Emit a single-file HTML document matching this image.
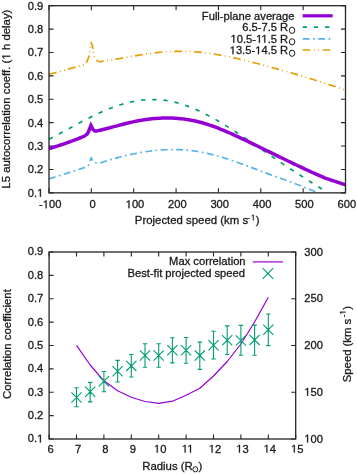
<!DOCTYPE html><html><head><meta charset="utf-8"><style>html,body{margin:0;padding:0;background:#fff;}svg{display:block;filter:blur(0.3px);}text{font-family:"Liberation Sans", sans-serif;fill:#1a1a1a;stroke:#1a1a1a;stroke-width:0.3px;white-space:pre;}</style></head><body>
<svg width="357" height="474" viewBox="0 0 357 474">
<rect width="357" height="474" fill="#fff"/>
<path d="M49.00 192.85V188.35M49.00 5.70V10.20M91.36 192.85V188.35M91.36 5.70V10.20M133.71 192.85V188.35M133.71 5.70V10.20M176.07 192.85V188.35M176.07 5.70V10.20M218.43 192.85V188.35M218.43 5.70V10.20M260.79 192.85V188.35M260.79 5.70V10.20M303.14 192.85V188.35M303.14 5.70V10.20M345.50 192.85V188.35M345.50 5.70V10.20M49.00 192.85H53.50M345.50 192.85H341.00M49.00 169.46H53.50M345.50 169.46H341.00M49.00 146.06H53.50M345.50 146.06H341.00M49.00 122.67H53.50M345.50 122.67H341.00M49.00 99.27H53.50M345.50 99.27H341.00M49.00 75.88H53.50M345.50 75.88H341.00M49.00 52.49H53.50M345.50 52.49H341.00M49.00 29.09H53.50M345.50 29.09H341.00M49.00 5.70H53.50M345.50 5.70H341.00" stroke="#262626" stroke-width="1.1" fill="none"/>
<polyline points="49.00,74.22 51.00,73.74 53.00,73.25 55.00,72.75 57.00,72.23 59.00,71.69 61.00,71.15 63.00,70.60 65.00,70.04 67.00,69.48 69.00,68.92 71.00,68.35 73.00,67.79 75.00,67.23 77.00,66.68 79.00,66.13 81.00,65.60 83.00,65.07 85.00,64.56 87.00,61.50 89.50,55.00 91.20,42.50 92.50,46.00 93.50,53.00 95.00,58.50 97.50,61.00 100.00,61.74 102.01,61.46 104.02,61.16 106.04,60.86 108.05,60.54 110.06,60.22 112.07,59.88 114.09,59.54 116.10,59.20 118.11,58.85 120.12,58.49 122.14,58.13 124.15,57.77 126.16,57.41 128.17,57.05 130.18,56.69 132.20,56.34 134.21,55.98 136.22,55.63 138.23,55.29 140.25,54.96 142.26,54.63 144.27,54.31 146.28,54.01 148.30,53.71 150.31,53.43 152.32,53.16 154.33,52.90 156.34,52.66 158.36,52.44 160.37,52.23 162.38,52.05 164.39,51.88 166.41,51.74 168.42,51.62 170.43,51.51 172.44,51.43 174.45,51.37 176.47,51.33 178.48,51.32 180.49,51.32 182.50,51.34 184.52,51.38 186.53,51.44 188.54,51.52 190.55,51.61 192.57,51.73 194.58,51.87 196.59,52.02 198.60,52.19 200.61,52.38 202.63,52.59 204.64,52.81 206.65,53.05 208.66,53.31 210.68,53.58 212.69,53.88 214.70,54.18 216.71,54.51 218.73,54.85 220.74,55.20 222.75,55.57 224.76,55.95 226.77,56.35 228.79,56.77 230.80,57.19 232.81,57.63 234.82,58.07 236.84,58.53 238.85,59.00 240.86,59.47 242.87,59.96 244.89,60.45 246.90,60.95 248.91,61.45 250.92,61.96 252.93,62.47 254.95,62.98 256.96,63.50 258.97,64.03 260.98,64.55 263.00,65.09 265.01,65.62 267.02,66.16 269.03,66.70 271.05,67.25 273.06,67.80 275.07,68.36 277.08,68.91 279.09,69.47 281.11,70.04 283.12,70.61 285.13,71.18 287.14,71.75 289.16,72.33 291.17,72.91 293.18,73.50 295.19,74.09 297.20,74.68 299.22,75.28 301.23,75.88 303.24,76.48 305.25,77.09 307.27,77.70 309.28,78.32 311.29,78.94 313.30,79.56 315.32,80.19 317.33,80.82 319.34,81.46 321.35,82.10 323.36,82.75 325.38,83.40 327.39,84.05 329.40,84.71 331.41,85.37 333.43,86.04 335.44,86.71 337.45,87.38 339.46,88.06 341.48,88.75 343.49,89.44 345.50,90.13" fill="none" stroke="#e69f00" stroke-width="1.7" stroke-dasharray="7.74 3.44 0.86 3.44 0.86 3.44" stroke-linejoin="round"/>
<polyline points="49.00,178.91 51.06,178.26 53.11,177.62 55.17,176.97 57.22,176.33 59.28,175.68 61.33,175.03 63.39,174.38 65.44,173.73 67.50,173.08 69.56,172.42 71.61,171.76 73.67,171.10 75.72,170.43 77.78,169.76 79.83,169.08 81.89,168.40 83.94,167.72 86.00,167.03 88.30,165.60 89.80,161.50 91.20,157.60 92.50,160.50 93.50,162.00 96.30,162.80 101.00,162.64 103.01,161.99 105.02,161.36 107.03,160.74 109.04,160.13 111.05,159.53 113.06,158.95 115.07,158.38 117.07,157.82 119.08,157.29 121.09,156.76 123.10,156.25 125.11,155.76 127.12,155.29 129.13,154.83 131.14,154.38 133.15,153.96 135.16,153.55 137.17,153.16 139.18,152.79 141.19,152.44 143.20,152.10 145.21,151.79 147.21,151.49 149.22,151.22 151.23,150.96 153.24,150.73 155.25,150.51 157.26,150.32 159.27,150.15 161.28,150.00 163.29,149.87 165.30,149.77 167.31,149.69 169.32,149.63 171.33,149.60 173.34,149.59 175.35,149.60 177.36,149.64 179.36,149.71 181.37,149.80 183.38,149.91 185.39,150.05 187.40,150.22 189.41,150.42 191.42,150.64 193.43,150.89 195.44,151.16 197.45,151.47 199.46,151.80 201.47,152.16 203.48,152.55 205.49,152.97 207.50,153.41 209.50,153.88 211.51,154.37 213.52,154.89 215.53,155.42 217.54,155.98 219.55,156.56 221.56,157.15 223.57,157.77 225.58,158.40 227.59,159.04 229.60,159.70 231.61,160.38 233.62,161.06 235.63,161.76 237.64,162.47 239.64,163.19 241.65,163.91 243.66,164.64 245.67,165.38 247.68,166.13 249.69,166.88 251.70,167.63 253.71,168.38 255.72,169.14 257.73,169.89 259.74,170.64 261.75,171.39 263.76,172.14 265.77,172.89 267.78,173.63 269.79,174.37 271.79,175.11 273.80,175.85 275.81,176.59 277.82,177.32 279.83,178.06 281.84,178.80 283.85,179.54 285.86,180.28 287.87,181.03 289.88,181.78 291.89,182.53 293.90,183.28 295.91,184.04 297.92,184.80 299.93,185.57 301.93,186.34 303.94,187.12 305.95,187.91 307.96,188.70 309.97,189.50 311.98,190.31 313.99,191.13 316.00,191.96" fill="none" stroke="#56b4e9" stroke-width="1.7" stroke-dasharray="6.88 3.44 1.72 3.44" stroke-linejoin="round"/>
<polyline points="49.00,139.20 51.01,138.15 53.02,137.10 55.03,136.04 57.04,134.97 59.05,133.90 61.06,132.82 63.07,131.73 65.08,130.65 67.08,129.56 69.09,128.47 71.10,127.38 73.11,126.30 75.12,125.22 77.13,124.15 79.14,123.08 81.15,122.02 83.16,120.97 85.17,119.93 87.18,118.90 89.19,117.89 91.20,116.88 93.21,115.90 95.22,114.93 97.23,113.98 99.24,113.05 101.24,112.14 103.25,111.26 105.26,110.39 107.27,109.55 109.28,108.74 111.29,107.96 113.30,107.20 115.31,106.47 117.32,105.78 119.33,105.12 121.34,104.49 123.35,103.90 125.36,103.34 127.37,102.82 129.38,102.33 131.39,101.88 133.40,101.47 135.41,101.10 137.41,100.76 139.42,100.46 141.43,100.21 143.44,99.99 145.45,99.82 147.46,99.68 149.47,99.59 151.48,99.54 153.49,99.53 155.50,99.57 157.51,99.65 159.52,99.78 161.53,99.95 163.54,100.16 165.55,100.42 167.56,100.73 169.57,101.09 171.57,101.48 173.58,101.92 175.59,102.41 177.60,102.93 179.61,103.50 181.62,104.11 183.63,104.75 185.64,105.44 187.65,106.16 189.66,106.92 191.67,107.71 193.68,108.53 195.69,109.40 197.70,110.29 199.71,111.21 201.72,112.17 203.73,113.16 205.73,114.17 207.74,115.21 209.75,116.28 211.76,117.37 213.77,118.49 215.78,119.63 217.79,120.79 219.80,121.98 221.81,123.18 223.82,124.40 225.83,125.64 227.84,126.90 229.85,128.17 231.86,129.46 233.87,130.76 235.88,132.07 237.89,133.39 239.89,134.73 241.90,136.07 243.91,137.42 245.92,138.78 247.93,140.14 249.94,141.51 251.95,142.88 253.96,144.26 255.97,145.64 257.98,147.01 259.99,148.39 262.00,149.76 264.01,151.14 266.02,152.50 268.03,153.87 270.04,155.23 272.05,156.59 274.06,157.95 276.06,159.30 278.07,160.65 280.08,162.00 282.09,163.34 284.10,164.68 286.11,166.01 288.12,167.34 290.13,168.67 292.14,169.99 294.15,171.31 296.16,172.62 298.17,173.93 300.18,175.24 302.19,176.54 304.20,177.83 306.21,179.12 308.22,180.41 310.22,181.69 312.23,182.96 314.24,184.23 316.25,185.49 318.26,186.75 320.27,188.01 322.28,189.25 324.29,190.50 326.30,191.73" fill="none" stroke="#009e73" stroke-width="1.7" stroke-dasharray="4.3 6.88" stroke-linejoin="round"/>
<polyline points="49.00,148.60 51.06,148.00 53.12,147.38 55.18,146.74 57.24,146.10 59.29,145.43 61.35,144.76 63.41,144.07 65.47,143.36 67.53,142.64 69.59,141.90 71.65,141.15 73.71,140.39 75.76,139.60 77.82,138.81 79.88,138.00 81.94,137.17 84.00,136.32 87.00,134.20 88.40,131.90 90.90,125.50 92.90,129.40 94.30,130.70 96.00,131.20 100.00,130.17 102.00,129.71 104.01,129.22 106.01,128.73 108.02,128.22 110.02,127.70 112.03,127.18 114.03,126.65 116.04,126.12 118.04,125.59 120.04,125.06 122.05,124.54 124.05,124.02 126.06,123.52 128.06,123.03 130.07,122.55 132.07,122.09 134.08,121.65 136.08,121.23 138.08,120.84 140.09,120.47 142.09,120.13 144.10,119.81 146.10,119.51 148.11,119.24 150.11,119.00 152.12,118.78 154.12,118.59 156.12,118.42 158.13,118.28 160.13,118.17 162.14,118.09 164.14,118.03 166.15,118.01 168.15,118.01 170.16,118.04 172.16,118.10 174.17,118.20 176.17,118.32 178.17,118.47 180.18,118.65 182.18,118.87 184.19,119.11 186.19,119.39 188.20,119.70 190.20,120.04 192.21,120.42 194.21,120.82 196.21,121.27 198.22,121.74 200.22,122.25 202.23,122.80 204.23,123.37 206.24,123.98 208.24,124.62 210.25,125.29 212.25,125.99 214.25,126.71 216.26,127.46 218.26,128.23 220.27,129.02 222.27,129.83 224.28,130.67 226.28,131.52 228.29,132.38 230.29,133.26 232.29,134.16 234.30,135.07 236.30,135.99 238.31,136.91 240.31,137.85 242.32,138.79 244.32,139.74 246.33,140.70 248.33,141.66 250.33,142.62 252.34,143.59 254.34,144.57 256.35,145.54 258.35,146.52 260.36,147.50 262.36,148.48 264.37,149.47 266.37,150.45 268.38,151.44 270.38,152.42 272.38,153.40 274.39,154.39 276.39,155.37 278.40,156.35 280.40,157.32 282.41,158.30 284.41,159.27 286.42,160.24 288.42,161.21 290.42,162.17 292.43,163.13 294.43,164.09 296.44,165.04 298.44,165.99 300.45,166.93 302.45,167.87 304.46,168.80 306.46,169.73 308.46,170.65 310.47,171.57 312.47,172.48 314.48,173.39 316.48,174.28 318.49,175.18 320.49,176.06 322.50,176.94 324.50,177.81 335.00,181.30 345.50,184.80" fill="none" stroke="#9400d3" stroke-width="3.5" stroke-linejoin="miter" stroke-miterlimit="10"/>
<rect x="49.0" y="5.7" width="296.50" height="187.15" fill="none" stroke="#262626" stroke-width="1.3"/>
<text x="39.09" y="208.20" font-size="11.2">-</text><path d="M515 0L515 1237L197 1010L197 1180L530 1409L696 1409L696 0Z" transform="translate(42.82,208.20) scale(0.00547,-0.00547)" fill="#1a1a1a" stroke="#1a1a1a" stroke-width="54.9"/><text x="49.05" y="208.20" font-size="11.2">00</text>
<text x="92.66" y="208.20" font-size="11.2" text-anchor="middle">0</text>
<path d="M515 0L515 1237L197 1010L197 1180L530 1409L696 1409L696 0Z" transform="translate(125.67,208.20) scale(0.00547,-0.00547)" fill="#1a1a1a" stroke="#1a1a1a" stroke-width="54.9"/><text x="131.90" y="208.20" font-size="11.2">00</text>
<text x="177.37" y="208.20" font-size="11.2" text-anchor="middle">200</text>
<text x="219.73" y="208.20" font-size="11.2" text-anchor="middle">300</text>
<text x="262.09" y="208.20" font-size="11.2" text-anchor="middle">400</text>
<text x="304.44" y="208.20" font-size="11.2" text-anchor="middle">500</text>
<text x="346.80" y="208.20" font-size="11.2" text-anchor="middle">600</text>
<text x="27.73" y="196.75" font-size="11.2">0.</text><path d="M515 0L515 1237L197 1010L197 1180L530 1409L696 1409L696 0Z" transform="translate(37.07,196.75) scale(0.00547,-0.00547)" fill="#1a1a1a" stroke="#1a1a1a" stroke-width="54.9"/>
<text x="43.30" y="173.36" font-size="11.2" text-anchor="end">0.2</text>
<text x="43.30" y="149.96" font-size="11.2" text-anchor="end">0.3</text>
<text x="43.30" y="126.57" font-size="11.2" text-anchor="end">0.4</text>
<text x="43.30" y="103.17" font-size="11.2" text-anchor="end">0.5</text>
<text x="43.30" y="79.78" font-size="11.2" text-anchor="end">0.6</text>
<text x="43.30" y="56.39" font-size="11.2" text-anchor="end">0.7</text>
<text x="43.30" y="32.99" font-size="11.2" text-anchor="end">0.8</text>
<text x="43.30" y="9.60" font-size="11.2" text-anchor="end">0.9</text>
<text x="134.8" y="223.7" font-size="11.4">Projected speed (km s</text>
<text x="247.3" y="220.3" font-size="8">-</text>
<path d="M515 0L515 1237L197 1010L197 1180L530 1409L696 1409L696 0Z" transform="translate(250.90,220.30) scale(0.00391,-0.00391)" fill="#1a1a1a" stroke="#1a1a1a" stroke-width="76.8"/>
<text x="255.7" y="223.7" font-size="11.4">)</text>
<g transform="translate(10.15,99.1) rotate(-90)"><text x="-89.57" y="0.00" font-size="11.4">L5 autocorrelation coeff. (</text><path d="M515 0L515 1237L197 1010L197 1180L530 1409L696 1409L696 0Z" transform="translate(39.50,0.00) scale(0.00557,-0.00557)" fill="#1a1a1a" stroke="#1a1a1a" stroke-width="53.9"/><text x="45.84" y="0.00" font-size="11.4"> h delay)</text></g>
<text x="294.50" y="19.80" font-size="11.2" text-anchor="end">Full-plane average</text>
<text x="288.20" y="31.25" font-size="11.2" text-anchor="end">6.5-7.5 R</text>
<ellipse cx="292.10" cy="30.35" rx="2.75" ry="3.1" fill="none" stroke="#1a1a1a" stroke-width="1.0"/><circle cx="292.10" cy="30.35" r="0.45" fill="#888"/>
<path d="M515 0L515 1237L197 1010L197 1180L530 1409L696 1409L696 0Z" transform="translate(230.50,42.70) scale(0.00547,-0.00547)" fill="#1a1a1a" stroke="#1a1a1a" stroke-width="54.9"/><text x="236.73" y="42.70" font-size="11.2">0.5-</text><path d="M515 0L515 1237L197 1010L197 1180L530 1409L696 1409L696 0Z" transform="translate(256.03,42.70) scale(0.00547,-0.00547)" fill="#1a1a1a" stroke="#1a1a1a" stroke-width="54.9"/><path d="M515 0L515 1237L197 1010L197 1180L530 1409L696 1409L696 0Z" transform="translate(261.43,42.70) scale(0.00547,-0.00547)" fill="#1a1a1a" stroke="#1a1a1a" stroke-width="54.9"/><text x="267.66" y="42.70" font-size="11.2">.5 R</text>
<ellipse cx="292.10" cy="41.80" rx="2.75" ry="3.1" fill="none" stroke="#1a1a1a" stroke-width="1.0"/><circle cx="292.10" cy="41.80" r="0.45" fill="#888"/>
<path d="M515 0L515 1237L197 1010L197 1180L530 1409L696 1409L696 0Z" transform="translate(229.67,54.15) scale(0.00547,-0.00547)" fill="#1a1a1a" stroke="#1a1a1a" stroke-width="54.9"/><text x="235.90" y="54.15" font-size="11.2">3.5-</text><path d="M515 0L515 1237L197 1010L197 1180L530 1409L696 1409L696 0Z" transform="translate(255.20,54.15) scale(0.00547,-0.00547)" fill="#1a1a1a" stroke="#1a1a1a" stroke-width="54.9"/><text x="261.43" y="54.15" font-size="11.2">4.5 R</text>
<ellipse cx="292.10" cy="53.25" rx="2.75" ry="3.1" fill="none" stroke="#1a1a1a" stroke-width="1.0"/><circle cx="292.10" cy="53.25" r="0.45" fill="#888"/>
<line x1="302.7" y1="15.8" x2="332.7" y2="15.8" stroke="#9400d3" stroke-width="3.2"/>
<line x1="302.7" y1="27.2" x2="332.7" y2="27.2" stroke="#009e73" stroke-width="1.7" stroke-dasharray="4.3 6.88"/>
<line x1="302.7" y1="38.8" x2="332.7" y2="38.8" stroke="#56b4e9" stroke-width="1.7" stroke-dasharray="6.88 3.44 1.72 3.44"/>
<line x1="302.7" y1="50.0" x2="332.7" y2="50.0" stroke="#e69f00" stroke-width="1.7" stroke-dasharray="7.74 3.44 0.86 3.44 0.86 3.44"/>
<path d="M49.10 439.00V434.50M49.10 252.00V256.50M76.50 439.00V434.50M76.50 252.00V256.50M103.90 439.00V434.50M103.90 252.00V256.50M131.30 439.00V434.50M131.30 252.00V256.50M158.70 439.00V434.50M158.70 252.00V256.50M186.10 439.00V434.50M186.10 252.00V256.50M213.50 439.00V434.50M213.50 252.00V256.50M240.90 439.00V434.50M240.90 252.00V256.50M268.30 439.00V434.50M268.30 252.00V256.50M295.70 439.00V434.50M295.70 252.00V256.50M49.10 439.00H53.60M49.10 415.62H53.60M49.10 392.25H53.60M49.10 368.88H53.60M49.10 345.50H53.60M49.10 322.12H53.60M49.10 298.75H53.60M49.10 275.38H53.60M49.10 252.00H53.60M295.70 439.00H291.20M295.70 392.25H291.20M295.70 345.50H291.20M295.70 298.75H291.20M295.70 252.00H291.20" stroke="#262626" stroke-width="1.1" fill="none"/>
<polyline points="76.50,345.30 90.20,365.00 103.90,380.80 117.60,390.80 131.30,397.30 145.00,401.50 158.70,403.30 172.40,401.20 186.10,395.30 199.80,388.30 213.50,376.00 227.20,361.50 240.90,344.00 254.60,322.00 268.30,297.20" fill="none" stroke="#9400d3" stroke-width="1.2" stroke-linejoin="round"/>
<path d="M76.50 387.70V406.70M74.30 387.70H78.70M74.30 406.70H78.70M71.40 392.40L81.60 402.60M71.40 402.60L81.60 392.40M90.20 382.40V401.90M88.00 382.40H92.40M88.00 401.90H92.40M85.10 386.70L95.30 396.90M85.10 396.90L95.30 386.70M103.90 371.50V391.80M101.70 371.50H106.10M101.70 391.80H106.10M98.80 376.10L109.00 386.30M98.80 386.30L109.00 376.10M117.60 360.40V382.00M115.40 360.40H119.80M115.40 382.00H119.80M112.50 366.10L122.70 376.30M112.50 376.30L122.70 366.10M131.30 354.50V377.00M129.10 354.50H133.50M129.10 377.00H133.50M126.20 360.80L136.40 371.00M126.20 371.00L136.40 360.80M145.00 343.70V367.30M142.80 343.70H147.20M142.80 367.30H147.20M139.90 350.40L150.10 360.60M139.90 360.60L150.10 350.40M158.70 343.70V367.30M156.50 343.70H160.90M156.50 367.30H160.90M153.60 350.40L163.80 360.60M153.60 360.60L163.80 350.40M172.40 337.80V362.90M170.20 337.80H174.60M170.20 362.90H174.60M167.30 345.10L177.50 355.30M167.30 355.30L177.50 345.10M186.10 337.50V363.30M183.90 337.50H188.30M183.90 363.30H188.30M181.00 345.10L191.20 355.30M181.00 355.30L191.20 345.10M199.80 342.10V369.40M197.60 342.10H202.00M197.60 369.40H202.00M194.70 350.50L204.90 360.70M194.70 360.70L204.90 350.50M213.50 331.20V359.00M211.30 331.20H215.70M211.30 359.00H215.70M208.40 340.20L218.60 350.40M208.40 350.40L218.60 340.20M227.20 325.90V354.50M225.00 325.90H229.40M225.00 354.50H229.40M222.10 335.10L232.30 345.30M222.10 345.30L232.30 335.10M240.90 325.40V355.30M238.70 325.40H243.10M238.70 355.30H243.10M235.80 335.40L246.00 345.60M235.80 345.60L246.00 335.40M254.60 325.10V355.30M252.40 325.10H256.80M252.40 355.30H256.80M249.50 334.80L259.70 345.00M249.50 345.00L259.70 334.80M268.30 314.00V345.60M266.10 314.00H270.50M266.10 345.60H270.50M263.20 324.70L273.40 334.90M263.20 334.90L273.40 324.70" stroke="#009e73" stroke-width="1.1" fill="none"/>
<rect x="49.1" y="252.0" width="246.60" height="187.00" fill="none" stroke="#262626" stroke-width="1.3"/>
<text x="50.60" y="452.60" font-size="11.2" text-anchor="middle">6</text>
<text x="78.00" y="452.60" font-size="11.2" text-anchor="middle">7</text>
<text x="105.40" y="452.60" font-size="11.2" text-anchor="middle">8</text>
<text x="132.80" y="452.60" font-size="11.2" text-anchor="middle">9</text>
<path d="M515 0L515 1237L197 1010L197 1180L530 1409L696 1409L696 0Z" transform="translate(153.97,452.60) scale(0.00547,-0.00547)" fill="#1a1a1a" stroke="#1a1a1a" stroke-width="54.9"/><text x="160.20" y="452.60" font-size="11.2">0</text>
<path d="M515 0L515 1237L197 1010L197 1180L530 1409L696 1409L696 0Z" transform="translate(181.79,452.60) scale(0.00547,-0.00547)" fill="#1a1a1a" stroke="#1a1a1a" stroke-width="54.9"/><path d="M515 0L515 1237L197 1010L197 1180L530 1409L696 1409L696 0Z" transform="translate(187.18,452.60) scale(0.00547,-0.00547)" fill="#1a1a1a" stroke="#1a1a1a" stroke-width="54.9"/>
<path d="M515 0L515 1237L197 1010L197 1180L530 1409L696 1409L696 0Z" transform="translate(208.77,452.60) scale(0.00547,-0.00547)" fill="#1a1a1a" stroke="#1a1a1a" stroke-width="54.9"/><text x="215.00" y="452.60" font-size="11.2">2</text>
<path d="M515 0L515 1237L197 1010L197 1180L530 1409L696 1409L696 0Z" transform="translate(236.17,452.60) scale(0.00547,-0.00547)" fill="#1a1a1a" stroke="#1a1a1a" stroke-width="54.9"/><text x="242.40" y="452.60" font-size="11.2">3</text>
<path d="M515 0L515 1237L197 1010L197 1180L530 1409L696 1409L696 0Z" transform="translate(263.57,452.60) scale(0.00547,-0.00547)" fill="#1a1a1a" stroke="#1a1a1a" stroke-width="54.9"/><text x="269.80" y="452.60" font-size="11.2">4</text>
<path d="M515 0L515 1237L197 1010L197 1180L530 1409L696 1409L696 0Z" transform="translate(290.97,452.60) scale(0.00547,-0.00547)" fill="#1a1a1a" stroke="#1a1a1a" stroke-width="54.9"/><text x="297.20" y="452.60" font-size="11.2">5</text>
<text x="27.73" y="442.40" font-size="11.2">0.</text><path d="M515 0L515 1237L197 1010L197 1180L530 1409L696 1409L696 0Z" transform="translate(37.07,442.40) scale(0.00547,-0.00547)" fill="#1a1a1a" stroke="#1a1a1a" stroke-width="54.9"/>
<text x="43.30" y="419.02" font-size="11.2" text-anchor="end">0.2</text>
<text x="43.30" y="395.65" font-size="11.2" text-anchor="end">0.3</text>
<text x="43.30" y="372.27" font-size="11.2" text-anchor="end">0.4</text>
<text x="43.30" y="348.90" font-size="11.2" text-anchor="end">0.5</text>
<text x="43.30" y="325.52" font-size="11.2" text-anchor="end">0.6</text>
<text x="43.30" y="302.15" font-size="11.2" text-anchor="end">0.7</text>
<text x="43.30" y="278.77" font-size="11.2" text-anchor="end">0.8</text>
<text x="43.30" y="255.40" font-size="11.2" text-anchor="end">0.9</text>
<path d="M515 0L515 1237L197 1010L197 1180L530 1409L696 1409L696 0Z" transform="translate(304.30,442.50) scale(0.00547,-0.00547)" fill="#1a1a1a" stroke="#1a1a1a" stroke-width="54.9"/><text x="310.53" y="442.50" font-size="11.2">00</text>
<path d="M515 0L515 1237L197 1010L197 1180L530 1409L696 1409L696 0Z" transform="translate(304.30,395.75) scale(0.00547,-0.00547)" fill="#1a1a1a" stroke="#1a1a1a" stroke-width="54.9"/><text x="310.53" y="395.75" font-size="11.2">50</text>
<text x="304.30" y="349.00" font-size="11.2">200</text>
<text x="304.30" y="302.25" font-size="11.2">250</text>
<text x="304.30" y="255.50" font-size="11.2">300</text>
<text x="142.2" y="469.8" font-size="11.4">Radius (R</text>
<ellipse cx="195.30" cy="469.30" rx="2.4" ry="2.65" fill="none" stroke="#1a1a1a" stroke-width="1.0"/><circle cx="195.30" cy="469.30" r="0.45" fill="#888"/>
<text x="198.6" y="469.8" font-size="11.4">)</text>
<text transform="translate(11.0,344.1) rotate(-90)" font-size="11.4" text-anchor="middle">Correlation coefficient</text>
<g transform="translate(350.6,382.2) rotate(-90)"><text x="0" y="0" font-size="11.3">Speed (km s</text><text x="65.0" y="-5.1" font-size="8">-</text><path d="M515 0L515 1237L197 1010L197 1180L530 1409L696 1409L696 0Z" transform="translate(67.70,-5.10) scale(0.00391,-0.00391)" fill="#1a1a1a" stroke="#1a1a1a" stroke-width="76.8"/><text x="72.4" y="0" font-size="11.3">)</text></g>
<text x="245.6" y="265.3" font-size="11.2" text-anchor="end">Max correlation</text>
<text x="245.0" y="276.5" font-size="11.2" text-anchor="end">Best-fit projected speed</text>
<line x1="252.8" y1="261.9" x2="283.1" y2="261.9" stroke="#9400d3" stroke-width="1.2"/>
<path d="M262.59999999999997 268.2L273.2 278.8M262.59999999999997 278.8L273.2 268.2" stroke="#009e73" stroke-width="1.1" fill="none"/>
</svg></body></html>
